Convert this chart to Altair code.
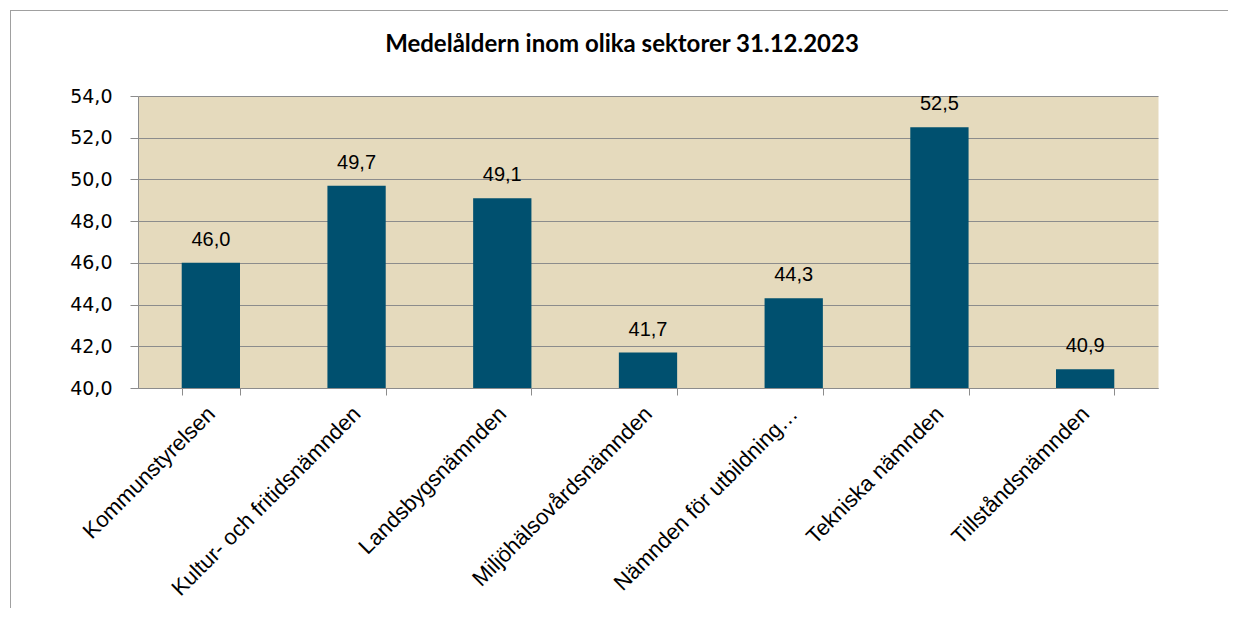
import altair as alt
import pandas as pd

categories = [
    "Kommunstyrelsen",
    "Kultur- och fritidsnämnden",
    "Landsbygsnämnden",
    "Miljöhälsovårdsnämnden",
    "Nämnden för utbildning…",
    "Tekniska nämnden",
    "Tillståndsnämnden",
]
values = [46.0, 49.7, 49.1, 41.7, 44.3, 52.5, 40.9]
y_ticks = [40, 42, 44, 46, 48, 50, 52, 54]
title_text = "Medelåldern inom olika sektorer 31.12.2023"

df = pd.DataFrame({"cat": categories, "val": values})

GRID = "#8C8C8C"
BAR = "#00506F"
BG = "#E5DABD"
FRAME = "#A0A0A0"

x_enc = alt.X(
    "cat:N",
    sort=categories,
    scale=alt.Scale(paddingInner=0.6, paddingOuter=0.3),
    axis=alt.Axis(
        title=None,
        labelAngle=-45,
        labelAlign="right",
        labelBaseline="middle",
        tickBand="extent",
        tickSize=7,
        tickColor=GRID,
        domainColor=GRID,
        labelFont="Liberation Sans",
        labelFontSize=22,
        labelColor="#000000",
        labelPadding=15,
        labelLimit=500,
        grid=False,
    ),
)
y_enc = alt.Y(
    "val:Q",
    scale=alt.Scale(domain=[40, 54], nice=False, zero=False),
    axis=alt.Axis(
        title=None,
        values=y_ticks,
        labelExpr="replace(format(datum.value, '.1f'), '.', ',')",
        tickSize=8,
        tickColor=GRID,
        domainColor=GRID,
        gridColor=GRID,
        grid=True,
        labelFont="DejaVu Sans",
        labelFontSize=19,
        labelColor="#000000",
        labelPadding=18,
    ),
)

base = alt.Chart(df)

bars = base.mark_bar(color=BAR).encode(x=x_enc, y=y_enc, y2=alt.datum(40))

labels = base.transform_calculate(
    lbl="replace(format(datum.val, '.1f'), '.', ',')"
).mark_text(
    baseline="alphabetic", dy=-17, font="Liberation Sans", fontSize=20, color="#000000"
).encode(x=alt.X("cat:N", sort=categories), y=alt.Y("val:Q"), text="lbl:N")

one = alt.Data(values=[{"a": 1}])
frame_top = alt.Chart(one).mark_rule(color=FRAME, strokeWidth=1).encode(
    x=alt.value(-128), x2=alt.value(1300), y=alt.value(-85.5)
)
frame_left = alt.Chart(one).mark_rule(color=FRAME, strokeWidth=1).encode(
    x=alt.value(-127.5), y=alt.value(-86), y2=alt.value(800)
)

chart = alt.layer(bars, labels, frame_top, frame_left).properties(
    width=1020,
    height=292,
    background="white",
    autosize=alt.AutoSizeParams(type="none"),
    padding={"left": 130, "top": 88, "right": 70, "bottom": 220},
    title=alt.TitleParams(
        title_text,
        font="Lato",
        fontSize=24,
        fontWeight="bold",
        color="#000000",
        anchor="middle",
        baseline="alphabetic",
        dx=-26,
        offset=-66,
    ),
).configure_view(fill=BG, stroke="transparent")

chart.save("out.html", embed_options={"renderer": "svg", "actions": False})
